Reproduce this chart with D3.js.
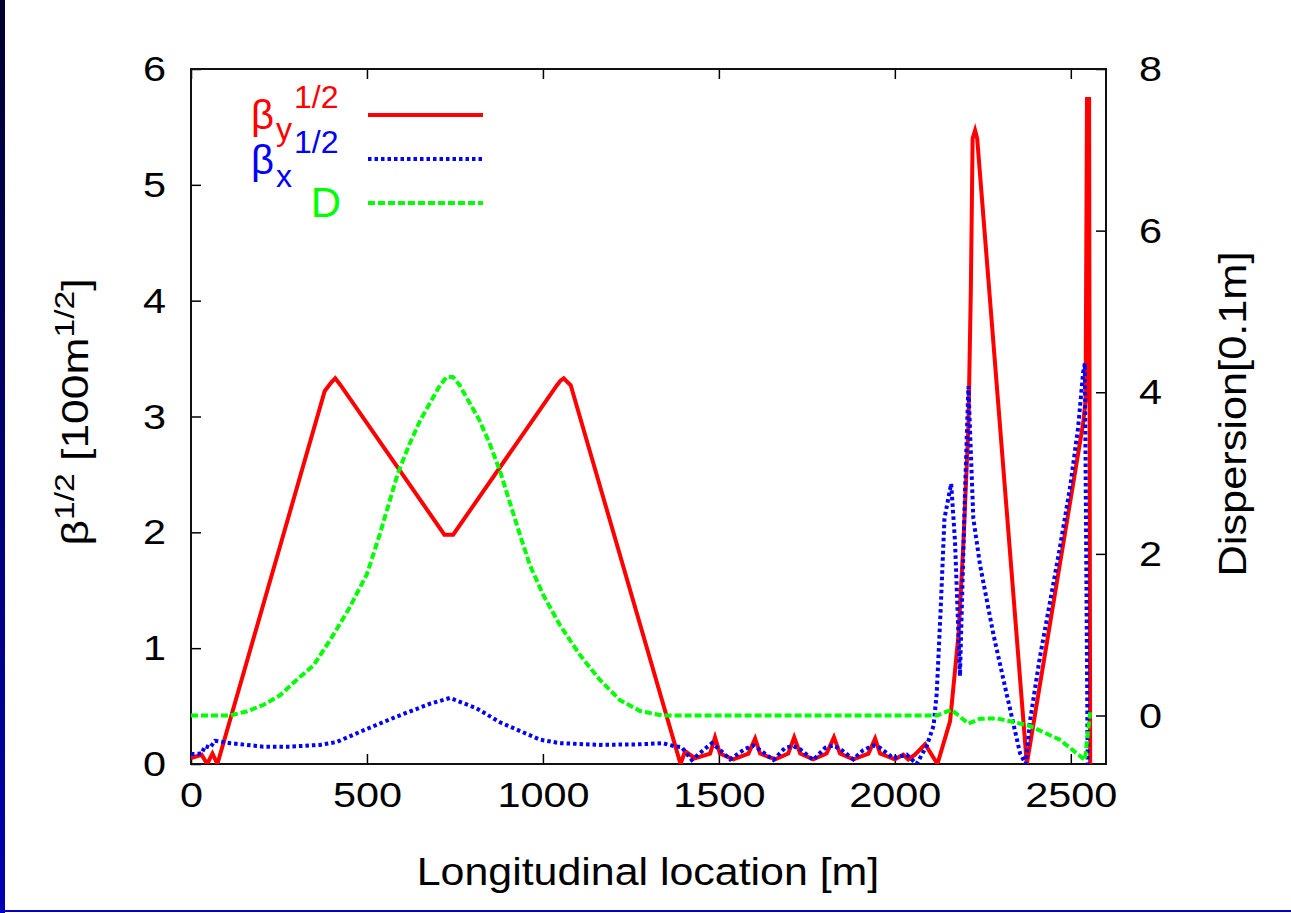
<!DOCTYPE html>
<html><head><meta charset="utf-8">
<script src="https://cdn.jsdelivr.net/npm/d3@7"></script>
<style>html,body{margin:0;padding:0;background:#fff;overflow:hidden}text{font-family:"Liberation Sans",Arial,sans-serif}</style>
</head><body>
<svg id="c" width="1291" height="913"></svg>
<script>
// ---- data ----
const xTicks = [0, 500, 1000, 1500, 2000, 2500];
const yTicks = [0, 1, 2, 3, 4, 5, 6];
const y2Ticks = [0, 2, 4, 6, 8];
// beta_y^(1/2) [sqrt(100 m)] vs location [m]
const betaY = [[0,0.05],[30,0.08],[46,0.0],[61,0.09],[75,0.0],[380,3.22],[400,3.3],[410,3.33],[425,3.27],[720,1.98],[745,1.98],[1040,3.27],[1050,3.31],[1059,3.33],[1079,3.27],[1391,0.0],[1404,0.11],[1432,0.05],[1475,0.09],[1489,0.23],[1503,0.09],[1541,0.04],[1584,0.09],[1603,0.22],[1617,0.09],[1660,0.04],[1697,0.09],[1714,0.23],[1731,0.09],[1768,0.04],[1806,0.09],[1827,0.23],[1844,0.09],[1882,0.04],[1925,0.09],[1944,0.22],[1958,0.09],[2000,0.04],[2024,0.08],[2038,0.04],[2057,0.08],[2086,0.17],[2121,0.0],[2157,0.37],[2181,1.12],[2195,1.92],[2209,2.91],[2216,4.1],[2221,5.4],[2228,5.47],[2234,5.4],[2375,0.0],[2535,2.94],[2542,3.14],[2546,5.74],[2552,5.74],[2555,0.0]];
// beta_x^(1/2)
const betaX = [[0,0.086],[30,0.09],[40,0.155],[54,0.14],[68,0.2],[111,0.18],[205,0.15],[281,0.15],[367,0.165],[414,0.19],[490,0.29],[585,0.41],[679,0.52],[736,0.57],[812,0.48],[878,0.36],[992,0.21],[1048,0.18],[1162,0.165],[1276,0.17],[1340,0.18],[1372,0.155],[1394,0.145],[1423,0.035],[1456,0.12],[1480,0.18],[1498,0.136],[1532,0.04],[1574,0.13],[1598,0.16],[1617,0.12],[1655,0.035],[1688,0.14],[1712,0.155],[1731,0.127],[1768,0.035],[1802,0.14],[1825,0.16],[1849,0.12],[1882,0.04],[1910,0.12],[1939,0.16],[1958,0.14],[1996,0.05],[2034,0.08],[2062,0.0],[2091,0.16],[2110,0.33],[2119,0.61],[2130,1.32],[2141,2.12],[2160,2.42],[2171,1.92],[2185,0.76],[2199,2.31],[2209,3.26],[2223,2.12],[2242,1.72],[2280,1.12],[2318,0.6],[2356,0.09],[2372,0.0],[2384,0.37],[2412,0.92],[2441,1.4],[2469,1.87],[2498,2.39],[2521,2.91],[2535,3.38],[2540,3.46],[2548,0.0]];
// dispersion [0.1 m] (right axis)
const disp = [[0,0],[111,0],[158,0.05],[205,0.13],[253,0.25],[300,0.44],[348,0.62],[395,0.93],[450,1.33],[500,1.75],[537,2.25],[588,3.0],[620,3.35],[651,3.65],[708,4.09],[727,4.19],[744,4.19],[763,4.09],[820,3.65],[850,3.35],[880,3.0],[930,2.3],[963,1.86],[1000,1.5],[1048,1.12],[1105,0.75],[1162,0.44],[1219,0.19],[1276,0.056],[1340,0],[2119,0],[2161,0.07],[2209,-0.1],[2242,-0.04],[2289,-0.035],[2337,-0.08],[2384,-0.13],[2469,-0.3],[2540,-0.55],[2555,0.04]];

// ---- layout ----
const W = 1291, H = 913;
const L = 191, R = 1106, T = 69, B = 764;
const svg = d3.select("#c");
const STRETCH = 1.15;

const defs = svg.append("defs");
const g0 = defs.append("linearGradient").attr("id","strip").attr("x1",0).attr("y1",0).attr("x2",0).attr("y2",1);
g0.append("stop").attr("offset","0%").attr("stop-color","#00002e");
g0.append("stop").attr("offset","100%").attr("stop-color","#0000b4");
svg.append("rect").attr("x",0).attr("y",0).attr("width",5).attr("height",H).attr("fill","url(#strip)");
svg.append("rect").attr("x",0).attr("y",H-3).attr("width",W).attr("height",2).attr("fill","#0000c8");

defs.append("clipPath").attr("id","clip").append("rect").attr("x",L).attr("y",T).attr("width",R-L).attr("height",B-T);

const x = d3.scaleLinear().domain([0, 2600]).range([L, R]);
const y = d3.scaleLinear().domain([0, 6]).range([B, T]);
const y2 = d3.scaleLinear().domain([-0.6, 8]).range([B, T]);

function styleAxis(g){
  g.select(".domain").remove();
  g.selectAll(".tick line").attr("stroke","#000").attr("stroke-width",1.5);
  g.selectAll(".tick text").attr("fill","#000").style("font-size","36px").style("font-family",'"Liberation Sans",Arial,sans-serif')
    .attr("transform", function(){ const x0 = +this.getAttribute("x") || 0; return `translate(${x0},0) scale(${STRETCH},1) translate(${-x0},0)`; });
}
svg.append("g").attr("transform",`translate(0,${B})`)
  .call(d3.axisBottom(x).tickValues(xTicks).tickSize(-10).tickPadding(17).tickFormat(d3.format("d"))).call(styleAxis);
svg.append("g").attr("transform",`translate(0,${T})`)
  .call(d3.axisTop(x).tickValues(xTicks).tickSize(-10).tickFormat("")).call(styleAxis);
svg.append("g").attr("transform",`translate(${L},0)`)
  .call(d3.axisLeft(y).tickValues(yTicks).tickSize(-10).tickPadding(25).tickFormat(d3.format("d"))).call(styleAxis);
svg.append("g").attr("transform",`translate(${R},0)`)
  .call(d3.axisRight(y2).tickValues(y2Ticks).tickSize(-10).tickPadding(33).tickFormat(d3.format("d"))).call(styleAxis);

svg.append("rect").attr("x",L).attr("y",T).attr("width",R-L).attr("height",B-T)
  .attr("fill","none").attr("stroke","#111").attr("stroke-width",2);

const lineY = d3.line().x(d=>x(d[0])).y(d=>y(d[1]));
const lineY2 = d3.line().x(d=>x(d[0])).y(d=>y2(d[1]));
const plot = svg.append("g").attr("clip-path","url(#clip)");
const styles = [
  {color:"#ff0000", dash:null},
  {color:"#0000ff", dash:"3.5,3"},
  {color:"#00ff00", dash:"7,3"}
];
plot.append("path").datum(betaY).attr("d",lineY).attr("fill","none").attr("stroke",styles[0].color).attr("stroke-width",4);
plot.append("path").datum(betaX).attr("d",lineY).attr("fill","none").attr("stroke",styles[1].color).attr("stroke-width",4).attr("stroke-dasharray",styles[1].dash);
plot.append("path").datum(disp).attr("d",lineY2).attr("fill","none").attr("stroke",styles[2].color).attr("stroke-width",4).attr("stroke-dasharray",styles[2].dash);

// legend
const leg = svg.append("g");
[115, 159, 203].forEach((ry,i)=>{
  const s = styles[i];
  leg.append("line").attr("x1",368).attr("x2",483).attr("y1",ry).attr("y2",ry)
    .attr("stroke",s.color).attr("stroke-width",4).attr("stroke-dasharray",s.dash);
});
function legText(tx,ty,str,size,color,anchor){
  leg.append("text").attr("x",tx).attr("y",ty).attr("fill",color).attr("text-anchor",anchor||"start")
    .style("font-size",size+"px").text(str);
}
legText(251,129,"β",40,styles[0].color);
legText(276,140,"y",32,styles[0].color);
legText(294,108,"1/2",32,styles[0].color);
legText(251,174,"β",40,styles[1].color);
legText(276,187,"x",32,styles[1].color);
legText(294,153,"1/2",32,styles[1].color);
legText(341,217,"D",42,styles[2].color,"end");

// axis titles
svg.append("text").attr("transform","translate(648,885) scale(1.1,1)").attr("text-anchor","middle").attr("fill","#000")
  .style("font-size","39px").text("Longitudinal location [m]");
const yl = svg.append("text").attr("transform","translate(88,412) rotate(-90) scale(1.2,1)").attr("text-anchor","middle").attr("fill","#000").style("font-size","37px");
yl.append("tspan").text("β");
yl.append("tspan").attr("dy",-14).style("font-size","28px").text("1/2");
yl.append("tspan").attr("dy",14).text(" [100m");
yl.append("tspan").attr("dy",-14).style("font-size","28px").text("1/2");
yl.append("tspan").attr("dy",14).text("]");
svg.append("text").attr("transform","translate(1246,414) rotate(-90) scale(1.14,1)").attr("text-anchor","middle").attr("fill","#000")
  .style("font-size","38px").text("Dispersion[0.1m]");
</script>
</body></html>
